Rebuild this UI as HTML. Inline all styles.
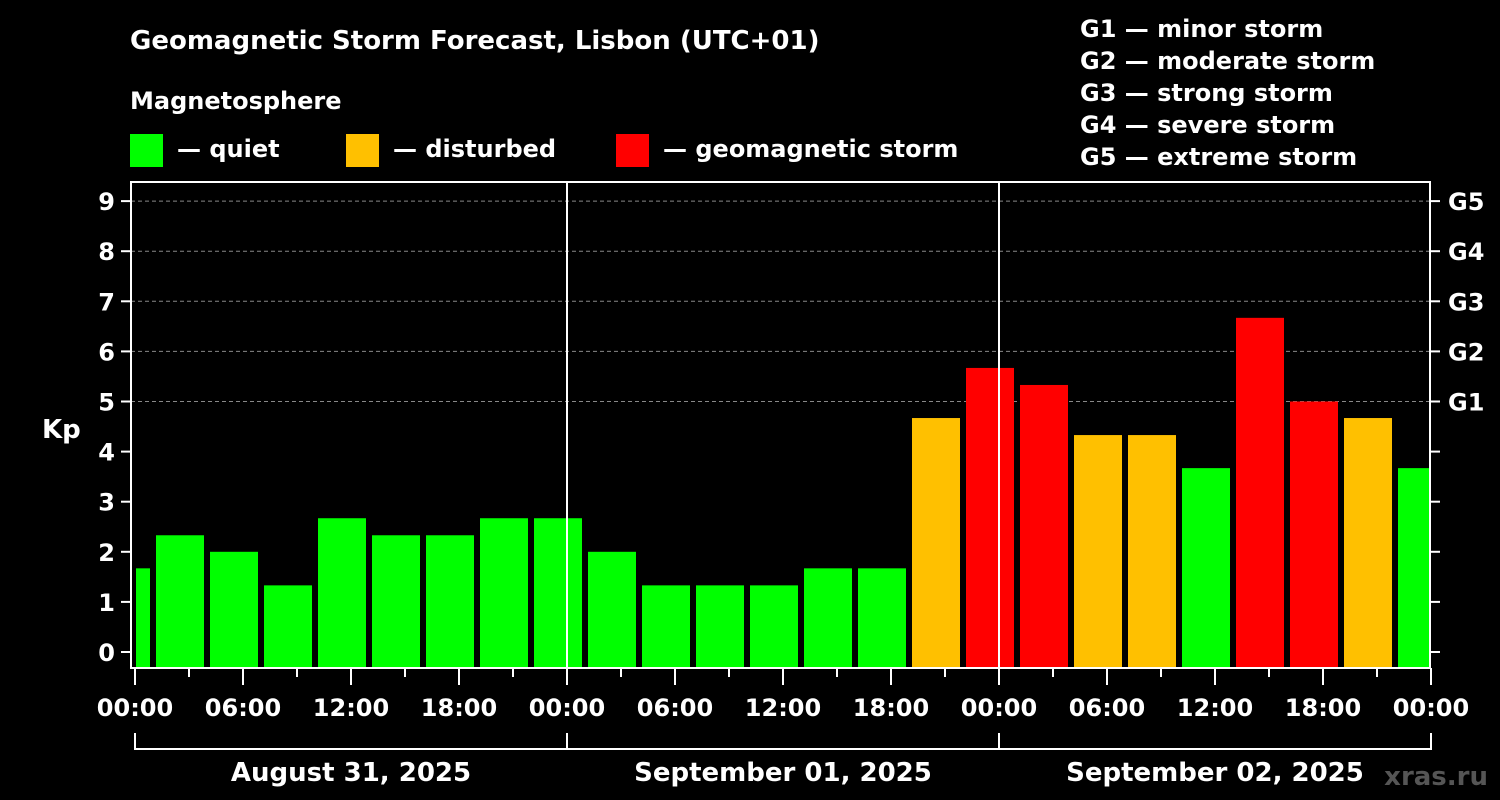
<!DOCTYPE html>
<html><head><meta charset="utf-8"><style>
body{margin:0;background:#000;width:1500px;height:800px;overflow:hidden}
svg{display:block;font-family:"DejaVu Sans","Liberation Sans",sans-serif;font-weight:bold}
</style></head><body>
<svg id="chart" width="1500" height="800">
<text x="130" y="49" fill="#fff" font-size="26">Geomagnetic Storm Forecast, Lisbon (UTC+01)</text>
<text x="130" y="109" fill="#fff" font-size="24">Magnetosphere</text>
<g><rect x="130" y="134" width="33" height="33" fill="#00ff00"/><text x="177" y="157" fill="#fff" font-size="24">— quiet</text></g>
<g><rect x="346" y="134" width="33" height="33" fill="#ffc000"/><text x="393" y="157" fill="#fff" font-size="24">— disturbed</text></g>
<g><rect x="616" y="134" width="33" height="33" fill="#ff0000"/><text x="663" y="157" fill="#fff" font-size="24">— geomagnetic storm</text></g>
<g fill="#fff" font-size="24">
<text x="1080" y="37">G1 — minor storm</text><text x="1080" y="69">G2 — moderate storm</text><text x="1080" y="101">G3 — strong storm</text><text x="1080" y="133">G4 — severe storm</text><text x="1080" y="165">G5 — extreme storm</text></g>
<text x="42" y="438" fill="#fff" font-size="26">Kp</text>
<text x="1488" y="785" fill="#555" font-size="26" text-anchor="end">xras.ru</text>
<g id="plot"></g>
</svg>
<script>
const kpValues=[1.67,2.33,2.0,1.33,2.67,2.33,2.33,2.67,2.67,2.0,1.33,1.33,1.33,1.67,1.67,4.67,5.67,5.33,4.33,4.33,3.67,6.67,5.0,4.67,3.67];
const barStartHour=-0.5;
const yTicks=[0,1,2,3,4,5,6,7,8,9];
const gLabels=["G1","G2","G3","G4","G5"];
const gLevels=[5,6,7,8,9];
const xTickLabels=["00:00","06:00","12:00","18:00","00:00","06:00","12:00","18:00","00:00","06:00","12:00","18:00","00:00"];
const dayLabels=["August 31, 2025","September 01, 2025","September 02, 2025"];
const L=131,R=1430,T=182,B=668;
const x=h=>135+h*18;
const y=v=>652-v*50.1;
const NS="http://www.w3.org/2000/svg";
const plot=document.getElementById('plot');
function mk(t,a){const e=document.createElementNS(NS,t);for(const k in a)e.setAttribute(k,a[k]);plot.appendChild(e);return e;}
gLevels.forEach((v,i)=>{const g=mk('line',{x1:L,x2:R,y1:y(v),y2:y(v),stroke:'#888','stroke-dasharray':'4,3','stroke-width':1});


const t=mk('text',{x:1448,y:y(v)+9,fill:'#fff','font-size':24});t.textContent=gLabels[i];

});
kpValues.forEach((v,i)=>{const c=barStartHour+i*3;let x0=x(c)-24,x1=x(c)+24;x0=Math.max(x0,136);x1=Math.min(x1,1429);
const col=v>=5?'#ff0000':(v>=4?'#ffc000':'#00ff00');
const r=mk('rect',{x:x0,y:y(v),width:x1-x0,height:B-y(v),fill:col});

});
[1,2].forEach(d=>{const l=mk('line',{x1:x(24*d),x2:x(24*d),y1:T,y2:B,stroke:'#fff','stroke-width':2});

});
const f=mk('rect',{x:L,y:T,width:R-L,height:B-T,fill:'none',stroke:'#fff','stroke-width':2});


yTicks.forEach(v=>{mk('line',{x1:121,x2:L,y1:y(v),y2:y(v),stroke:'#fff','stroke-width':2});
mk('line',{x1:R,x2:1440,y1:y(v),y2:y(v),stroke:'#fff','stroke-width':2});
const t=mk('text',{x:115,y:y(v)+9,fill:'#fff','font-size':24,'text-anchor':'end'});t.textContent=v;

});
for(let h=0;h<=72;h+=3){mk('line',{x1:x(h),x2:x(h),y1:B,y2:h%6==0?685:677,stroke:'#fff','stroke-width':2});}
xTickLabels.forEach((s,i)=>{const t=mk('text',{x:x(i*6),y:716,fill:'#fff','font-size':24,'text-anchor':'middle'});t.textContent=s;

});
mk('line',{x1:x(0),x2:x(72),y1:749,y2:749,stroke:'#fff','stroke-width':2});
for(let d=0;d<=3;d++)mk('line',{x1:x(24*d),x2:x(24*d),y1:733,y2:750,stroke:'#fff','stroke-width':2});
dayLabels.forEach((s,i)=>{const t=mk('text',{x:x(24*i+12),y:781,fill:'#fff','font-size':26,'text-anchor':'middle'});t.textContent=s;

});
</script>
</body></html>
